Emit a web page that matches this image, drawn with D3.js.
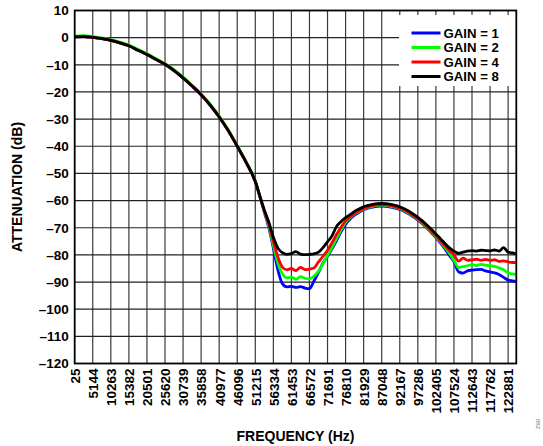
<!DOCTYPE html>
<html><head><meta charset="utf-8">
<script src="https://cdn.jsdelivr.net/npm/d3@7"></script>
<style>
html,body{margin:0;padding:0;background:#fff;}
svg{display:block;font-family:"Liberation Sans",Arial,sans-serif;font-weight:bold;}
</style></head><body>
<svg id="c" width="543" height="446"></svg>
<script>
// ---- data ----
const freq = [25,2585,5144,7704,10263,12823,15382,17942,20501,23061,25620,28180,30739,33299,35858,38418,40977,43537,46096,48656,51215,
 52495,53775,55054,56334,57614,58894,60173,61453,62733,64013,65292,66572,67852,69132,70411,71691,72971,74251,75530,
 76810,78090,79370,80649,81929,83209,84489,85768,87048,88328,89608,90887,92167,93447,94727,96006,97286,98566,99846,101125,
 102405,103685,104965,106244,107524,108804,110084,111363,112643,113923,115203,116482,117762,119042,120322,121601,122881,124161,125000];

const gain1 = [0.3,0.4,0.1,-0.4,-1.0,-1.9,-3.0,-4.6,-6.2,-8.0,-9.8,-12.1,-14.8,-17.8,-21.0,-24.8,-29.2,-34.2,-40.0,-46.0,-53.0,
 -58.5,-64.3,-70.0,-77.5,-85.5,-90.6,-91.8,-91.6,-92.0,-91.7,-92.2,-92.4,-89.6,-86.4,-83.0,-80.5,-77.8,-74.7,-71.5,
 -68.8,-66.8,-65.4,-64.3,-63.4,-62.8,-62.4,-62.1,-62.0,-62.1,-62.4,-62.8,-63.3,-64.0,-64.9,-66.0,-67.2,-68.5,-70.1,-71.8,
 -73.6,-75.6,-77.8,-80.2,-82.5,-86.2,-86.7,-85.9,-85.6,-85.4,-85.3,-85.9,-86.3,-86.6,-87.2,-88.3,-89.3,-89.6,-89.8];

const gain2 = [0.6,0.7,0.4,-0.1,-0.7,-1.6,-2.7,-4.3,-5.9,-7.7,-9.5,-11.8,-14.5,-17.5,-20.7,-24.5,-28.9,-33.9,-39.8,-45.8,-52.8,
 -58.4,-64.0,-69.3,-76.5,-83.0,-87.0,-88.5,-88.2,-89.0,-88.0,-88.6,-88.8,-87.8,-86.0,-83.2,-80.2,-77.2,-74.0,-70.8,
 -68.0,-66.3,-65.0,-64.0,-63.1,-62.5,-62.1,-61.8,-61.7,-61.8,-62.1,-62.5,-63.0,-63.7,-64.6,-65.7,-66.9,-68.2,-69.8,-71.5,
 -73.3,-75.2,-77.3,-79.4,-82.0,-84.6,-84.3,-84.0,-83.6,-83.9,-83.5,-83.8,-84.0,-84.2,-84.8,-85.5,-86.7,-87.0,-87.3];

const gain4 = [0.3,0.4,0.1,-0.4,-1.0,-1.9,-3.0,-4.6,-6.2,-8.0,-9.8,-12.1,-14.8,-17.8,-21.0,-24.8,-29.2,-34.2,-40.0,-46.0,-53.0,
 -58.4,-63.8,-68.8,-75.0,-80.8,-84.5,-85.5,-85.0,-85.8,-84.6,-85.4,-85.2,-84.8,-82.6,-80.5,-78.3,-75.5,-72.5,-69.8,
 -67.5,-66.0,-64.8,-63.8,-62.9,-62.3,-61.9,-61.6,-61.5,-61.6,-61.9,-62.3,-62.8,-63.5,-64.4,-65.5,-66.7,-68.0,-69.6,-71.3,
 -73.0,-74.8,-76.7,-78.5,-80.0,-82.3,-81.2,-82.0,-81.8,-81.6,-82.0,-81.7,-82.0,-81.8,-82.4,-82.2,-82.6,-82.8,-82.8];

const gain8 = [0.3,0.4,0.1,-0.4,-1.0,-1.9,-3.0,-4.6,-6.2,-8.0,-9.8,-12.1,-14.8,-17.8,-21.0,-24.8,-29.2,-34.2,-40.0,-46.0,-53.0,
 -58.3,-63.5,-68.0,-73.5,-77.5,-79.2,-79.8,-79.5,-78.8,-79.7,-79.9,-79.8,-79.6,-79.0,-77.3,-75.2,-73.0,-69.5,-67.7,
 -66.3,-65.2,-64.0,-63.1,-62.3,-61.8,-61.4,-61.1,-61.0,-61.1,-61.4,-61.8,-62.3,-63.0,-63.9,-65.0,-66.2,-67.5,-69.0,-70.6,
 -72.3,-74.0,-75.8,-77.4,-78.6,-79.4,-79.0,-78.6,-78.4,-78.6,-78.3,-78.4,-78.5,-78.2,-78.6,-77.3,-79.0,-79.3,-79.5];

const seriesNames = ["GAIN = 1","GAIN = 2","GAIN = 4","GAIN = 8"];
const seriesColors = ["#0000ff","#00ff00","#ff0000","#000000"];
const xTicks = [25,5144,10263,15382,20501,25620,30739,35858,40977,46096,51215,56334,61453,66572,71691,76810,81929,87048,92167,97286,102405,107524,112643,117762,122881];
const yTicks = [10,0,-10,-20,-30,-40,-50,-60,-70,-80,-90,-100,-110,-120];

// ---- layout ----
const L = 74.7, R = 516.3, T = 10.5, B = 363.5;
const svg = d3.select("#c");
const x = d3.scaleLinear().domain([25,125200]).range([L,R]);
const y = d3.scaleLinear().domain([-120,10]).range([B,T]);

// grid
svg.append("g").selectAll("line").data(xTicks.slice(1)).join("line")
  .attr("x1",d=>x(d)).attr("x2",d=>x(d)).attr("y1",T).attr("y2",B)
  .attr("stroke","#3a3a3a").attr("stroke-width",1.2);
svg.append("g").selectAll("line").data(yTicks.slice(1,-1)).join("line")
  .attr("y1",d=>y(d)).attr("y2",d=>y(d)).attr("x1",L).attr("x2",R)
  .attr("stroke","#222").attr("stroke-width",1.2);

// curves
const all = [gain1,gain2,gain4,gain8];
const line = d3.line().x((d,i)=>x(freq[i])).y(d=>y(d)).curve(d3.curveMonotoneX);
svg.append("clipPath").attr("id","pc").append("rect").attr("x",L).attr("y",T).attr("width",R-L).attr("height",B-T);
svg.append("g").attr("clip-path","url(#pc)").selectAll("path").data(all).join("path")
  .attr("d",d=>line(d)).attr("fill","none")
  .attr("stroke",(d,i)=>seriesColors[i]).attr("stroke-width",2.8).attr("stroke-linejoin","round");

// legend
svg.append("rect").attr("x",399).attr("y",15).attr("width",R-399).attr("height",71).attr("fill","#fff");
const lg = svg.append("g").selectAll("g").data(seriesNames).join("g")
  .attr("transform",(d,i)=>`translate(0,${33+i*14.5})`);
lg.append("line").attr("x1",411.5).attr("x2",440.5).attr("y1",0).attr("y2",0)
  .attr("stroke",(d,i)=>seriesColors[i]).attr("stroke-width",3);
lg.append("text").attr("x",443.5).attr("y",0).attr("dy","0.36em").attr("font-size",13.2).text(d=>d);

// frame
svg.append("rect").attr("x",L).attr("y",T).attr("width",R-L).attr("height",B-T)
  .attr("fill","none").attr("stroke","#000").attr("stroke-width",1.8);

// axes labels
const yAxis = d3.axisLeft(y).tickValues(yTicks).tickSize(0).tickPadding(6)
  .tickFormat(d=> d<0 ? "\u2013"+Math.abs(d) : String(d));
const ga = svg.append("g").attr("transform",`translate(${L},0)`).call(yAxis);
ga.select(".domain").remove();
ga.selectAll("text").attr("font-size",13.5).attr("font-family","Liberation Sans, Arial, sans-serif").attr("font-weight","bold").attr("fill","#000");

const xAxis = d3.axisBottom(x).tickValues(xTicks).tickSize(0).tickFormat(d=>String(d));
const gx = svg.append("g").attr("transform",`translate(0,${B})`).call(xAxis);
gx.select(".domain").remove();
gx.selectAll("text").attr("font-size",13.5).attr("font-family","Liberation Sans, Arial, sans-serif").attr("font-weight","bold").attr("fill","#000")
  .attr("transform","rotate(-90)").attr("text-anchor","end").attr("x",-5).attr("y",0).attr("dy","0.36em");

svg.append("text").attr("transform",`translate(22,${(T+B)/2}) rotate(-90)`).attr("text-anchor","middle")
  .attr("font-size",14).text("ATTENUATION (dB)");
svg.append("text").attr("x",(L+R)/2).attr("y",441).attr("text-anchor","middle")
  .attr("font-size",14).text("FREQUENCY (Hz)");
svg.append("text").attr("transform","translate(536,424) rotate(90)").attr("text-anchor","middle")
  .attr("font-size",6).attr("font-weight","normal").attr("fill","#777").text("082");
</script>
</body></html>
